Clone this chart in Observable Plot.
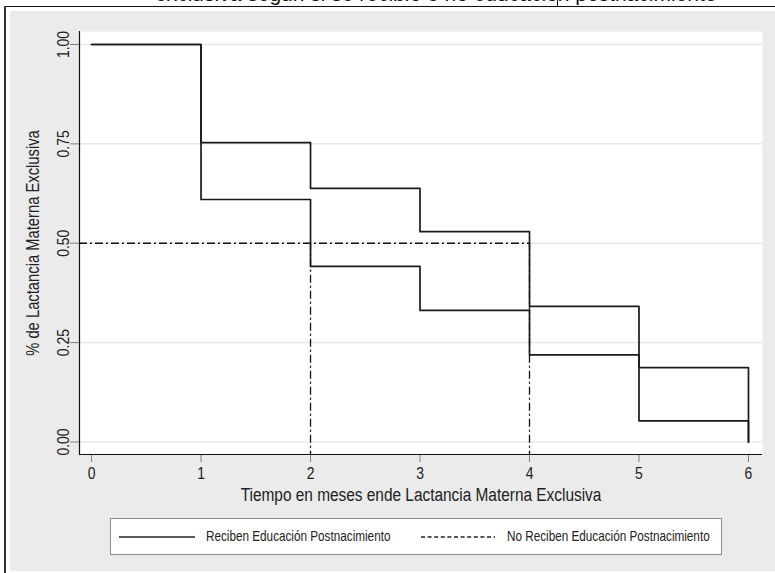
<!DOCTYPE html>
<html><head><meta charset="utf-8">
<script src="https://cdn.jsdelivr.net/npm/d3@7"></script>
<script src="https://cdn.jsdelivr.net/npm/@observablehq/plot@0.6"></script>
<style>
html,body{margin:0;padding:0;background:#fff;}
#page{position:relative;width:775px;height:573px;overflow:hidden;font-family:"Liberation Sans",Arial,sans-serif;color:#222;}
#title{position:absolute;left:0;top:0;width:775px;height:6px;overflow:hidden;}
#title span{position:absolute;left:155px;top:-18px;font-size:21px;white-space:nowrap;color:#111;}
#hline{position:absolute;left:5px;top:6px;width:770px;height:1px;background:#111;}
#vline{position:absolute;left:4px;top:6px;width:2px;height:567px;background:#333;}
#cell{position:absolute;left:557px;top:0;width:1px;height:6px;background:#111;}
#gray{position:absolute;left:10px;top:11px;width:765px;height:560px;background:#ebebeb;}
#chart{position:absolute;left:0;top:0;}
#legend{position:absolute;left:110px;top:518px;width:610px;height:35px;background:#fff;border:1.5px solid #8a8a8a;}
#legend .lt{position:absolute;top:0;line-height:35px;font-size:14.3px;white-space:nowrap;color:#222;transform:scaleX(0.82);transform-origin:0 50%;}
#legend svg{position:absolute;top:16px;}
</style></head>
<body>
<div id="page">
  <div id="title"><span>exclusiva según si se recibió o no educación postnacimiento</span></div>
  <div id="cell"></div>
  <div id="hline"></div>
  <div id="vline"></div>
  <div id="gray"></div>
  <div id="chart"></div>
  <div id="legend">
    <svg style="left:8px" width="76" height="4"><line x1="0" x2="76" y1="2" y2="2" stroke="#222" stroke-width="1.6"/></svg>
    <span class="lt" style="left:95px">Reciben Educación Postnacimiento</span>
    <svg style="left:310px" width="74" height="4"><line x1="0" x2="74" y1="2" y2="2" stroke="#222" stroke-width="1.4" stroke-dasharray="4,2.6"/></svg>
    <span class="lt" style="left:396px">No Reciben Educación Postnacimiento</span>
  </div>
</div>
<script>
// ---- data ----
const months = [0, 1, 2, 3, 4, 5, 6];
const reciben = [1.00, 0.753, 0.638, 0.529, 0.341, 0.187, 0.00];
const noReciben = [1.00, 0.610, 0.442, 0.331, 0.219, 0.053, 0.00];
const yTicks = [0, 0.25, 0.5, 0.75, 1];
const yTickLabels = ["0.00", "0.25", "0.50", "0.75", "1.00"];
const xTicks = [0, 1, 2, 3, 4, 5, 6];
const medianLevel = [0.5];
const medianTimes = [2, 4];
const xTitle = "Tiempo en meses ende Lactancia Materna Exclusiva";
const yTitle = "% de Lactancia Materna Exclusiva";

const xDomain = [-0.11, 6.128];
const yDomain = [-0.0315, 1.0327];

const rows = [
  ...months.map((m, i) => ({month: m, value: reciben[i], grupo: "Reciben"})),
  ...months.map((m, i) => ({month: m, value: noReciben[i], grupo: "No Reciben"}))
];

const dashDot = "8,3,2,3";
const font = '"Liberation Sans",Arial,sans-serif';

const chart = Plot.plot({
  width: 775, height: 573,
  marginLeft: 79, marginRight: 13, marginTop: 31, marginBottom: 119,
  style: {background: "transparent", fontFamily: font, color: "#222", overflow: "visible"},
  x: {domain: xDomain, axis: null},
  y: {domain: yDomain, axis: null},
  marks: [
    Plot.frame({fill: "white", stroke: null}),
    Plot.gridY(yTicks, {stroke: "#e8e8e8", strokeOpacity: 1, strokeWidth: 1.5}),
    Plot.axisY(yTicks, {tickSize: 9, tickFormat: () => "", stroke: "#808080", label: null}),
    Plot.text(yTicks, {y: d => d, text: (d, i) => yTickLabels[i], frameAnchor: "left", textAnchor: "middle", lineAnchor: "middle", dx: -16, rotate: -90, fontSize: 17, fill: "#222"}),
    Plot.axisX(xTicks, {tickSize: 8, tickPadding: 4, stroke: "#808080", fill: "#222", fontSize: 17, label: null, tickFormat: d => String(d)}),
    Plot.text([xTitle], {frameAnchor: "bottom", textAnchor: "middle", lineAnchor: "middle", dy: 40, fontSize: 18.8, fill: "#222"}),
    Plot.text([yTitle], {frameAnchor: "left", textAnchor: "middle", lineAnchor: "middle", dx: -46, rotate: -90, fontSize: 18, fill: "#222"}),
    Plot.ruleY(medianLevel, {x1: xDomain[0], x2: medianTimes[1], stroke: "#111", strokeWidth: 1.3, strokeDasharray: dashDot}),
    Plot.ruleX(medianTimes, {y1: medianLevel[0], y2: yDomain[0], stroke: "#111", strokeWidth: 1.3, strokeDasharray: dashDot}),
    Plot.line(rows, {x: "month", y: "value", z: "grupo", curve: "step-after", stroke: "#1a1a1a", strokeWidth: 1.7}),
    Plot.ruleY([yDomain[0]], {stroke: "#111", strokeWidth: 1.2}),
    Plot.ruleX([xDomain[0]], {stroke: "#111", strokeWidth: 1.2})
  ]
});
document.getElementById("chart").appendChild(chart);
// emulate a narrow sans-serif face by compressing glyphs horizontally
chart.querySelectorAll("text").forEach(t => {
  const len = t.getComputedTextLength();
  if (len > 0) {
    t.setAttribute("textLength", (len * 0.82).toFixed(2));
    t.setAttribute("lengthAdjust", "spacingAndGlyphs");
  }
});
</script>
</body></html>
